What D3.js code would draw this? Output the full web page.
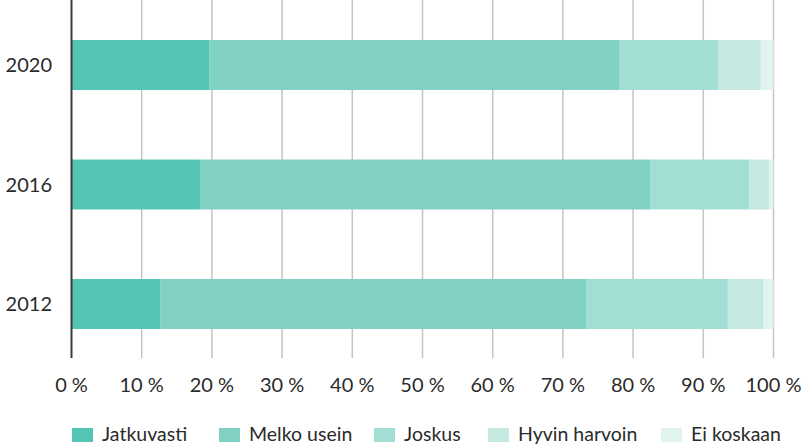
<!DOCTYPE html>
<html>
<head>
<meta charset="utf-8">
<script src="https://cdn.jsdelivr.net/npm/d3@7/dist/d3.min.js"></script>
<style>
  html, body { margin: 0; padding: 0; background: #fff; }
  svg { display: block; font-family: Lato, "Open Sans", sans-serif; }
</style>
</head>
<body>
<svg id="chart" width="802" height="447"></svg>
<script>
// Survey years (top to bottom) and answer categories
const years = ["2020", "2016", "2012"];
const categories = ["Jatkuvasti", "Melko usein", "Joskus", "Hyvin harvoin", "Ei koskaan"];
const colors = ["#52c5b5", "#80d1c4", "#a2ded4", "#c5e8e1", "#e1f3ef"];

// Share of answers (%) per year, in category order
const jatkuvasti   = [19.6, 18.3, 12.7];
const melkoUsein   = [58.5, 64.2, 60.6];
const joskus       = [14.0, 14.0, 20.2];
const hyvinHarvoin = [6.1, 2.9, 5.1];
const eiKoskaan    = [1.8, 0.6, 1.4];

const xTicks = [0, 10, 20, 30, 40, 50, 60, 70, 80, 90, 100];

const seriesValues = [jatkuvasti, melkoUsein, joskus, hyvinHarvoin, eiKoskaan];
const rows = years.map((y, i) => {
  const r = { year: y };
  categories.forEach((c, k) => { r[c] = seriesValues[k][i]; });
  return r;
});

const svg = d3.select("#chart");
const left = 71.5, right = 773.5, axisBottom = 358;

const x = d3.scaleLinear().domain([0, 100]).range([left, right]);
const y = d3.scaleBand().domain(years).range([0, 369])
  .paddingInner(0.582).paddingOuter(0.335);

const stack = d3.stack().keys(categories)(rows);

// vertical gridlines
svg.append("g").selectAll("line").data(xTicks.slice(1)).join("line")
  .attr("x1", d => x(d)).attr("x2", d => x(d))
  .attr("y1", 0).attr("y2", axisBottom)
  .attr("stroke", "#c4c4c4").attr("stroke-width", 1.5);

// stacked bars
svg.append("g").selectAll("g").data(stack).join("g")
  .attr("fill", (d, i) => colors[i])
  .selectAll("rect").data(d => d).join("rect")
  .attr("x", d => x(d[0]))
  .attr("width", d => x(d[1]) - x(d[0]))
  .attr("y", d => y(d.data.year))
  .attr("height", y.bandwidth());

// zero line
svg.append("line")
  .attr("x1", x(0)).attr("x2", x(0))
  .attr("y1", 0).attr("y2", axisBottom)
  .attr("stroke", "#3a3a3a").attr("stroke-width", 2);

// x tick labels
svg.append("g").selectAll("text").data(xTicks).join("text")
  .attr("x", d => x(d)).attr("y", 392)
  .attr("text-anchor", "middle")
  .attr("font-size", 20).attr("fill", "#2b2b2b")
  .text(d => d + " %");

// year labels
svg.append("g").selectAll("text").data(years).join("text")
  .attr("x", 52).attr("y", d => y(d) + y.bandwidth() / 2)
  .attr("dy", "0.35em")
  .attr("text-anchor", "end")
  .attr("font-size", 20).attr("fill", "#2b2b2b")
  .text(d => d);

// legend: swatch + label, items laid out along one row
const legendX = [72, 219, 374, 488, 661];
const legend = svg.append("g");
categories.forEach((c, i) => {
  legend.append("rect")
    .attr("x", legendX[i]).attr("y", 428).attr("width", 21).attr("height", 14)
    .attr("fill", colors[i]);
  legend.append("text")
    .attr("x", legendX[i] + 30).attr("y", 441)
    .attr("font-size", 19.5).attr("fill", "#2b2b2b")
    .text(c);
});
</script>
</body>
</html>
